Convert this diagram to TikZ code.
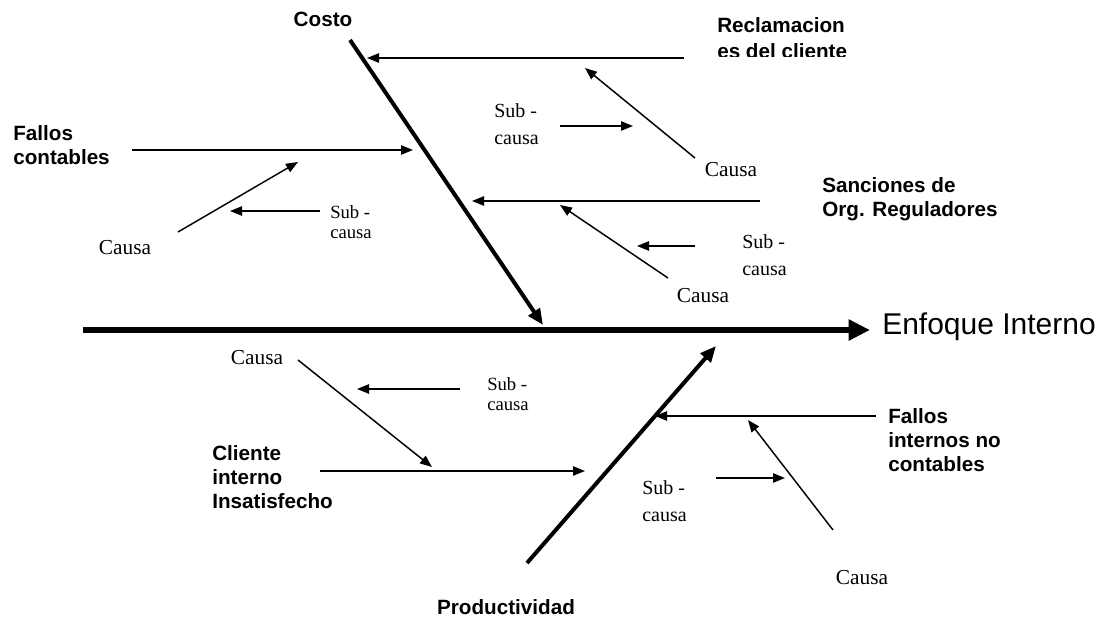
\documentclass[tikz,border=0pt]{standalone}
\usepackage{fontspec}
\setmainfont{Liberation Serif}
\newfontfamily\labelfont{Liberation Sans}
\usetikzlibrary{arrows.meta}

\tikzset{
  spine/.style={line width=4.5pt, -{Triangle[length=16pt,width=15pt]}},
  bone/.style={line width=3pt, -{Triangle[length=12pt,width=10pt]}},
  causeline/.style={line width=1.1pt, -{Triangle[length=9pt,width=7pt]}},
  effectlbl/.style={font=\labelfont\fontsize{22.5}{26}\selectfont, anchor=west, inner sep=0pt},
  catlbl/.style={font=\labelfont\bfseries\fontsize{15.5}{18}\selectfont, align=left, anchor=west, inner sep=0pt},
  causelbl/.style={font=\fontsize{16}{18}\selectfont, inner sep=0pt},
  sublbl/.style={font=\fontsize{15}{20}\selectfont, align=left, anchor=west, inner sep=0pt},
  smallsub/.style={font=\fontsize{14}{15}\selectfont, align=left, anchor=west, inner sep=0pt},
}

\begin{document}
\begin{tikzpicture}[x=0.75pt,y=-0.75pt]
  \fill[white] (0,0) rectangle (1102,620);
  \path[use as bounding box] (0,0) rectangle (1102,620);

  % ---- spine and main bones
  \coordinate (spineS) at (83,330);
  \coordinate (spineE) at (870,330);
  \coordinate (costoS) at (350,40);
  \coordinate (costoE) at (543,325);
  \coordinate (prodS) at (527,563);
  \coordinate (prodE) at (716,346);

  \draw[spine] (spineS) -- (spineE);
  \draw[bone] (costoS) -- (costoE);
  \draw[bone] (prodS) -- (prodE);

  \node[effectlbl] (effect) at (882,327) {Enfoque Interno};
  \node[font=\labelfont\bfseries\fontsize{15.5}{18}\selectfont] (costo) at (323,19) {Costo};
  \node[font=\labelfont\bfseries\fontsize{15.5}{18}\selectfont] (prod) at (506,607) {Productividad};

  % ---- category arrows
  \coordinate (reclS) at (684,58);   \coordinate (reclE) at (367,58);
  \coordinate (sancS) at (760,201);  \coordinate (sancE) at (472,201);
  \coordinate (fintS) at (876,416);  \coordinate (fintE) at (655,416);
  \coordinate (fconS) at (132,150);  \coordinate (fconE) at (413,150);
  \coordinate (clieS) at (320,471);  \coordinate (clieE) at (585,471);

  \draw[causeline] (reclS) -- (reclE);
  \draw[causeline] (sancS) -- (sancE);
  \draw[causeline] (fintS) -- (fintE);
  \draw[causeline] (fconS) -- (fconE);
  \draw[causeline] (clieS) -- (clieE);

  % the second line of this label is cut off at its foot
  \begin{scope}
    \clip (700,0) rectangle (900,57);
    \node[catlbl, anchor=north west, font=\labelfont\bfseries\fontsize{15.5}{19.5}\selectfont]
      (recl) at (717,17) {Reclamacion\\es del cliente};
  \end{scope}
  \node[catlbl] (sanc) at (822,199) {Sanciones de\\Org. Reguladores};
  \node[catlbl] (fint) at (888,440) {Fallos\\internos no\\contables};
  \node[catlbl] (fcon) at (13,145) {Fallos\\contables};
  \node[catlbl] (clie) at (212,477) {Cliente\\interno\\Insatisfecho};

  % ---- causes
  \coordinate (c1S) at (695,158); \coordinate (c1E) at (585,68);
  \coordinate (c2S) at (178,232); \coordinate (c2E) at (298,162);
  \coordinate (c3S) at (668,278); \coordinate (c3E) at (560,205);
  \coordinate (c4S) at (298,360); \coordinate (c4E) at (432,467);
  \coordinate (c5S) at (833,530); \coordinate (c5E) at (748,420);

  \draw[causeline] (c1S) -- (c1E);
  \draw[causeline] (c2S) -- (c2E);
  \draw[causeline] (c3S) -- (c3E);
  \draw[causeline] (c4S) -- (c4E);
  \draw[causeline] (c5S) -- (c5E);

  \node[causelbl] (c1) at (731,170) {Causa};
  \node[causelbl] (c2) at (125,248) {Causa};
  \node[causelbl] (c3) at (703,296) {Causa};
  \node[causelbl] (c4) at (257,358) {Causa};
  \node[causelbl] (c5) at (862,578) {Causa};

  % ---- sub-causes
  \coordinate (s1S) at (560,126); \coordinate (s1E) at (633,126);
  \coordinate (s2S) at (320,211); \coordinate (s2E) at (230,211);
  \coordinate (s3S) at (695,246); \coordinate (s3E) at (637,246);
  \coordinate (s4S) at (460,389); \coordinate (s4E) at (357,389);
  \coordinate (s5S) at (716,478); \coordinate (s5E) at (785,478);

  \draw[causeline] (s1S) -- (s1E);
  \draw[causeline] (s2S) -- (s2E);
  \draw[causeline] (s3S) -- (s3E);
  \draw[causeline] (s4S) -- (s4E);
  \draw[causeline] (s5S) -- (s5E);

  \node[sublbl] (s1) at (494,124) {Sub -\\causa};
  \node[smallsub] (s2) at (330,222) {Sub -\\causa};
  \node[sublbl] (s3) at (742,255) {Sub -\\causa};
  \node[smallsub] (s4) at (487,394) {Sub -\\causa};
  \node[sublbl] (s5) at (642,501) {Sub -\\causa};
\end{tikzpicture}
\end{document}
